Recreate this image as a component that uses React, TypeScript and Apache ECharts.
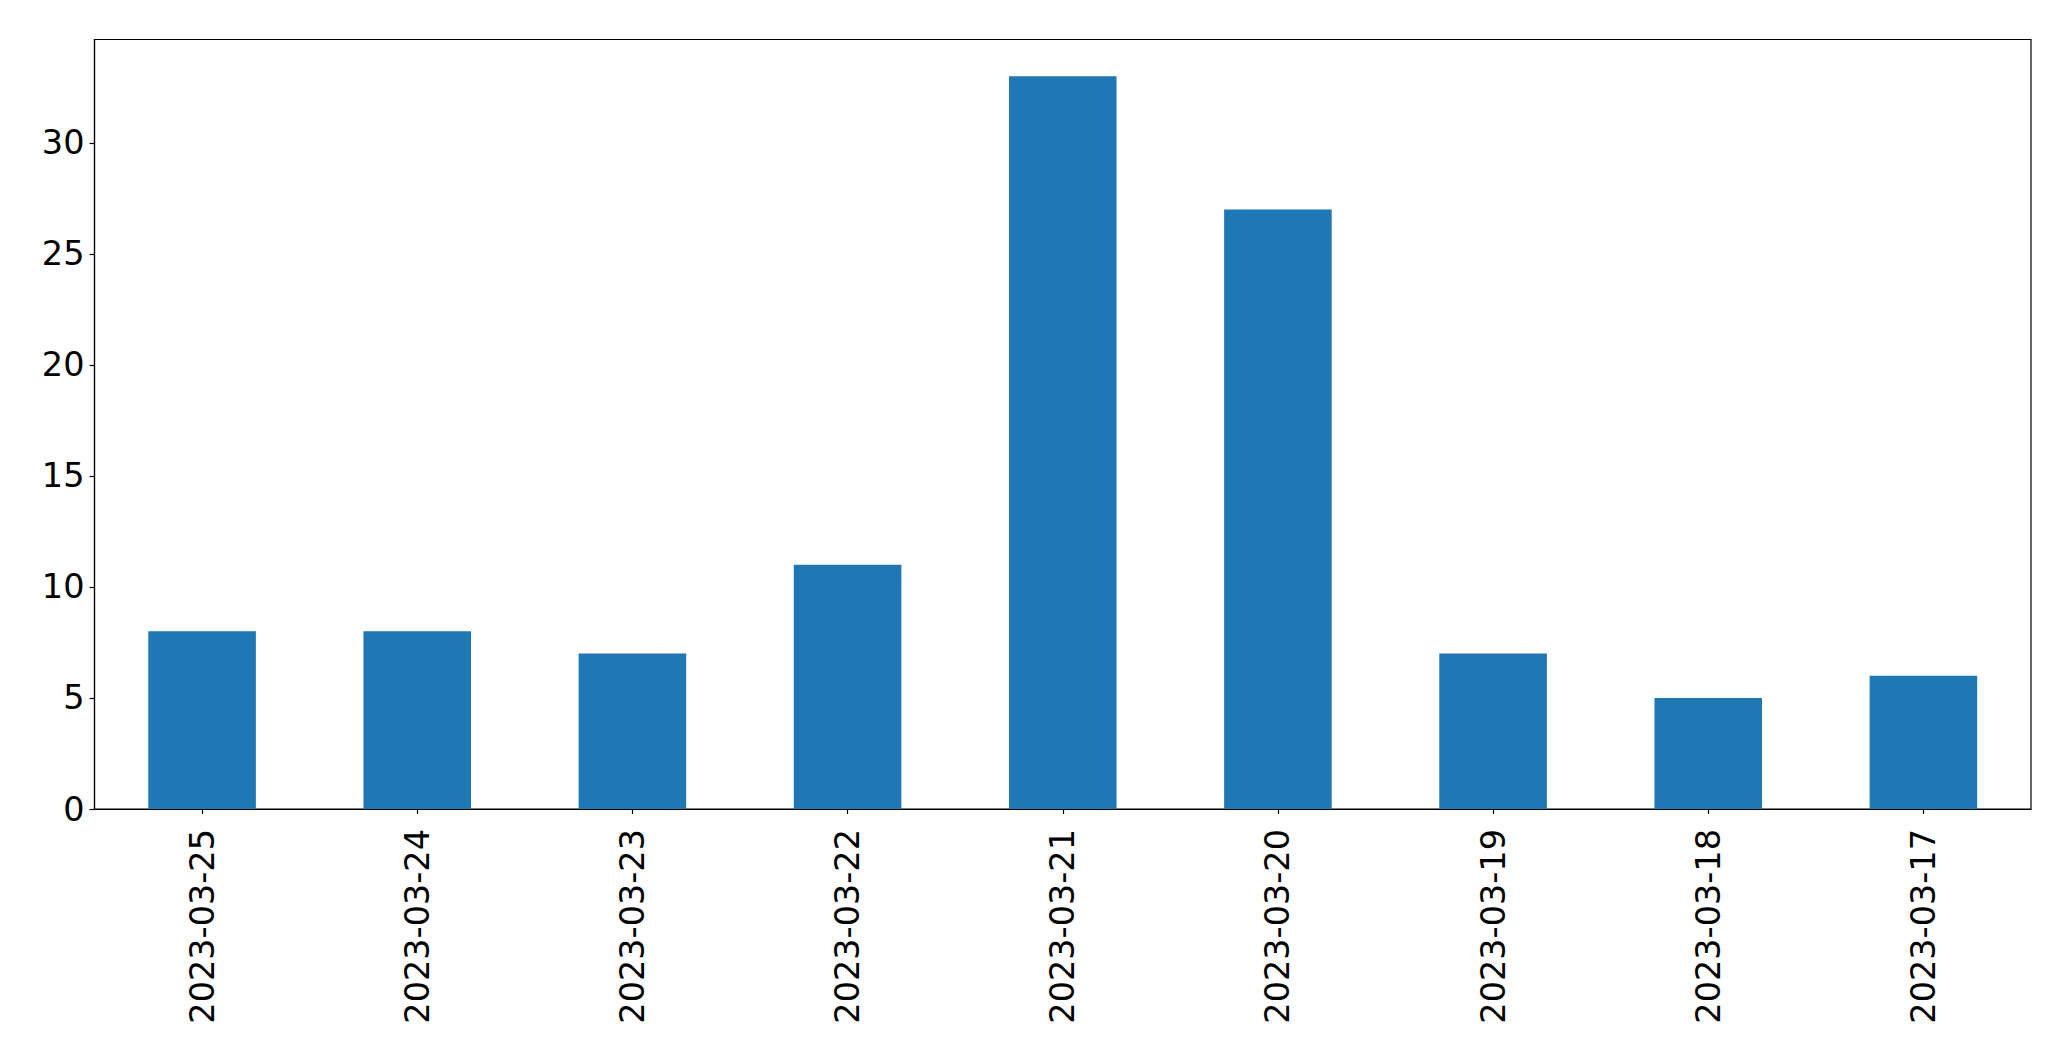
import React, { useEffect, useRef } from "react";
import * as echarts from "echarts";

const categories = [
  "2023-03-25",
  "2023-03-24",
  "2023-03-23",
  "2023-03-22",
  "2023-03-21",
  "2023-03-20",
  "2023-03-19",
  "2023-03-18",
  "2023-03-17",
];
const values = [8, 8, 7, 11, 33, 27, 7, 5, 6];
const yTicks = [0, 5, 10, 15, 20, 25, 30];

export default function App() {
  const ref = useRef<HTMLDivElement>(null);
  useEffect(() => {
    if (!ref.current) return;
    const chart = echarts.init(ref.current, undefined, { renderer: "svg" });
    const font = "DejaVu Sans";
    chart.setOption({
      animation: false,
      backgroundColor: "#ffffff",
      grid: {
        left: 94.5,
        top: 39.5,
        width: 1936.5,
        height: 769.5,
        show: true,
        borderColor: "#000000",
        borderWidth: 1.2,
        backgroundColor: "transparent",
        containLabel: false,
      },
      xAxis: {
        type: "category",
        data: categories,
        boundaryGap: true,
        axisLine: { show: true, lineStyle: { color: "#000000", width: 1.2 } },
        axisTick: {
          show: true,
          alignWithLabel: true,
          length: 5,
          lineStyle: { color: "#000000", width: 1.2 },
        },
        axisLabel: {
          rotate: 90,
          margin: 20,
          color: "#000000",
          fontFamily: font,
          fontSize: 33.5,
          interval: 0,
        },
        splitLine: { show: false },
      },
      yAxis: {
        type: "value",
        min: 0,
        max: 34.65,
        interval: 5,
        axisLine: { show: true, lineStyle: { color: "#000000", width: 1.2 } },
        axisTick: {
          show: true,
          length: 5,
          lineStyle: { color: "#000000", width: 1.2 },
          customValues: yTicks,
        },
        axisLabel: {
          margin: 10,
          color: "#000000",
          fontFamily: font,
          fontSize: 33.5,
          customValues: yTicks,
        },
        splitLine: { show: false },
      },
      series: [
        {
          type: "bar",
          data: values,
          barWidth: "50%",
          itemStyle: { color: "#1f77b4" },
        },
      ],
    });
    return () => chart.dispose();
  }, []);
  return (
    <div
      ref={ref}
      style={{ position: "fixed", left: 0, top: 0, width: 2071, height: 1061, background: "#fff" }}
    />
  );
}
